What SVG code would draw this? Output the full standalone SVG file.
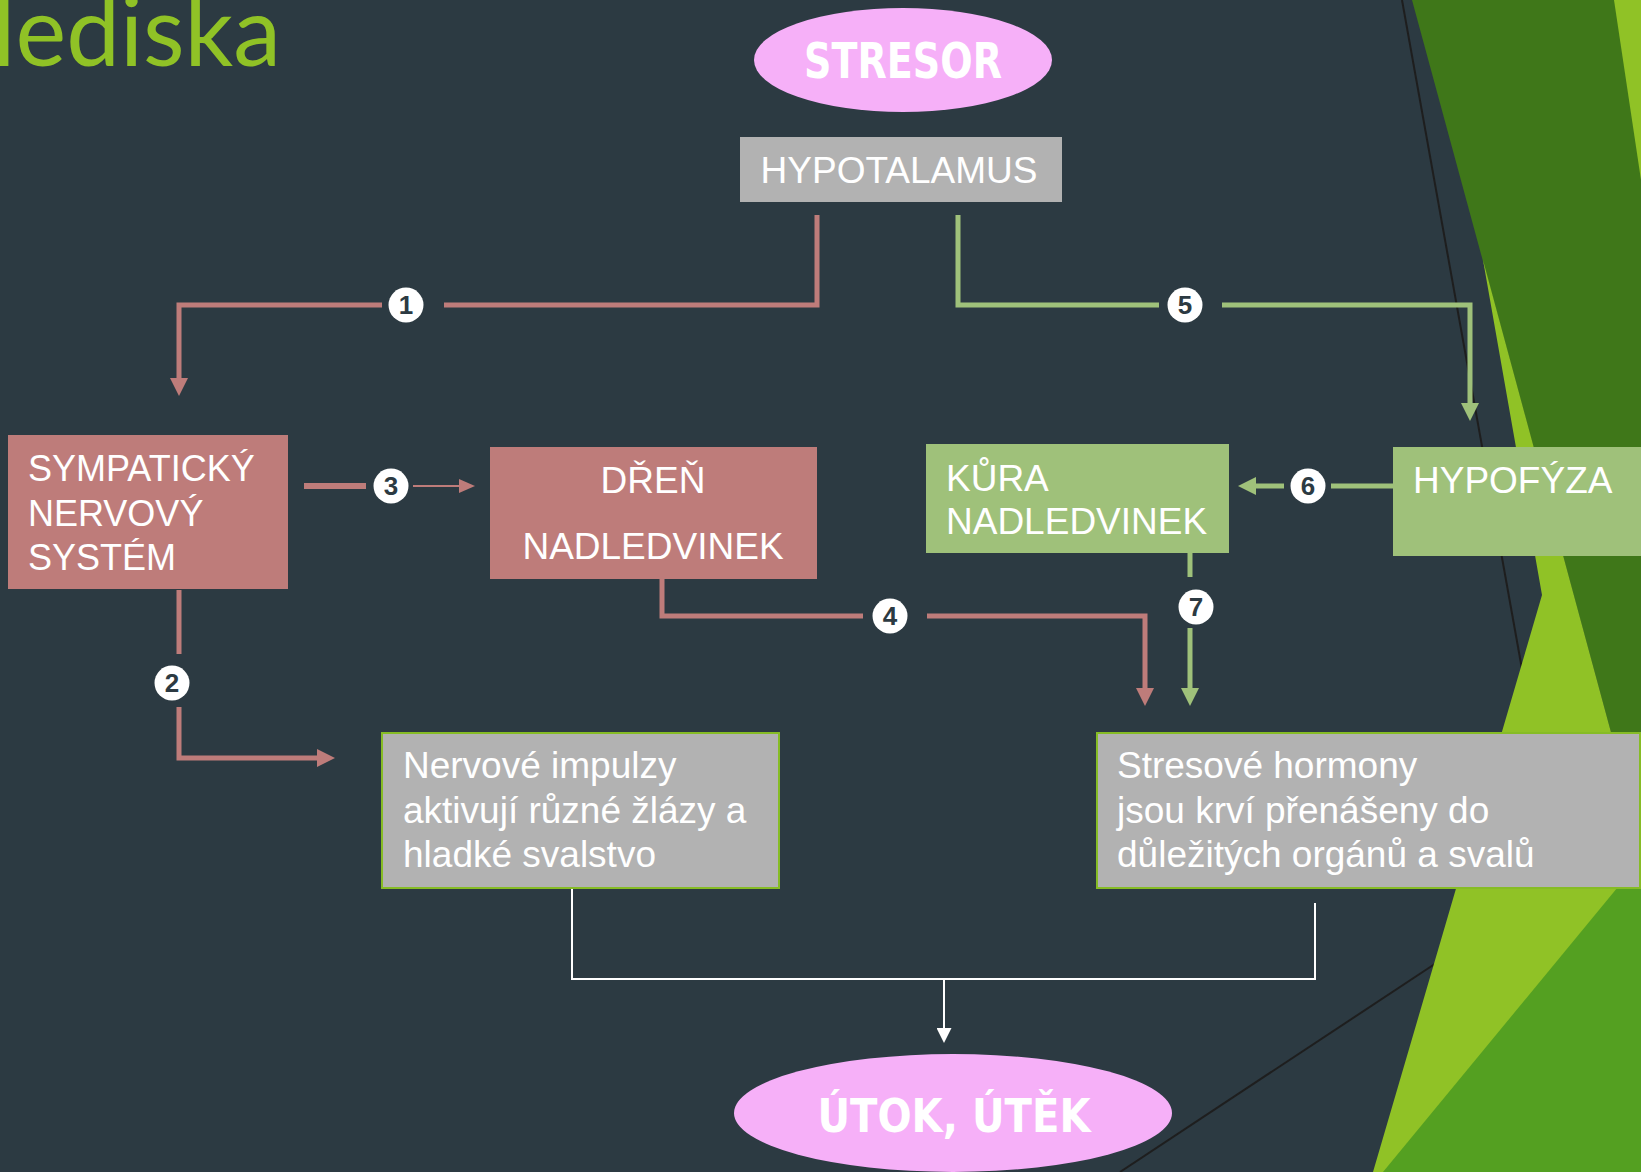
<svg xmlns="http://www.w3.org/2000/svg" width="1641" height="1172" viewBox="0 0 1641 1172">
<defs>
<style>
.txt{font-family:"Liberation Sans",Arial,sans-serif;fill:#ffffff;font-size:37px}
.red{fill:#BE7C7A}
.grn{fill:#9FC17A}
.gry{fill:#B2B2B2}
.gryb{fill:#B2B2B2;stroke:#86BC25;stroke-width:2}
.pink{fill:#F6B0F8}
.big{font-family:"Liberation Sans Narrow","DejaVu Sans Condensed","Liberation Sans",sans-serif;font-weight:bold;fill:#ffffff}
.cr{stroke:#BE7C7A;stroke-width:5;fill:none}
.cg{stroke:#9FC17A;stroke-width:5;fill:none}
.cw{stroke:#ffffff;stroke-width:2;fill:none}
.lbl circle{fill:#ffffff}
.lbl text{font-family:"Liberation Sans",Arial,sans-serif;font-weight:bold;font-size:26px;fill:#2C3A42;text-anchor:middle}
.thin{stroke:#1E1E1E;stroke-width:2;fill:none}
</style>
<marker id="ar" markerUnits="userSpaceOnUse" markerWidth="18" markerHeight="18" viewBox="0 0 18 18" refX="0" refY="9" orient="auto"><path d="M0,0 L18,9 L0,18 z" fill="#BE7C7A"/></marker>
<marker id="ars" markerUnits="userSpaceOnUse" markerWidth="16" markerHeight="14" viewBox="0 0 16 14" refX="0" refY="7" orient="auto"><path d="M0,0 L16,7 L0,14 z" fill="#BE7C7A"/></marker>
<marker id="ag" markerUnits="userSpaceOnUse" markerWidth="18" markerHeight="18" viewBox="0 0 18 18" refX="0" refY="9" orient="auto"><path d="M0,0 L18,9 L0,18 z" fill="#9FC17A"/></marker>
<marker id="aw" markerUnits="userSpaceOnUse" markerWidth="15" markerHeight="15" viewBox="0 0 15 15" refX="0" refY="7.5" orient="auto"><path d="M0,0 L15,7.5 L0,15 z" fill="#ffffff"/></marker>
</defs>
<rect x="0" y="0" width="1641" height="1172" fill="#2C3A42"/>
<g id="background">
<line class="thin" x1="1402" y1="0" x2="1532" y2="725"/>
<line class="thin" x1="1462" y1="946" x2="1120" y2="1172"/>
<polygon points="1412,0 1641,0 1641,843" fill="#3F7719"/>
<polygon points="1614,0 1641,0 1641,180" fill="#90C226"/>
<polygon points="1483,260 1641,843 1641,1172 1373,1172 1542,595" fill="#90C226"/>
<polygon points="1641,859 1641,1172 1383,1172" fill="#54A021"/>
<text x="281" y="66" text-anchor="end" font-family="Lato,'Open Sans',sans-serif" font-size="96" fill="#90C226">lediska</text>
</g>
<g id="connectors">
<path class="cr" d="M817,215 V305 H444"/>
<path class="cr" d="M382,305 H179 V378" marker-end="url(#ar)"/>
<path class="cr" d="M179,590 V654"/>
<path class="cr" d="M179,707 V758 H317" marker-end="url(#ar)"/>
<path class="cr" style="stroke-width:6" d="M304,486 H366"/>
<path class="cr" style="stroke-width:2" d="M413,486 H459" marker-end="url(#ars)"/>
<path class="cr" d="M662,579 V616 H863"/>
<path class="cr" d="M927,616 H1145 V688" marker-end="url(#ar)"/>
<path class="cg" d="M958,215 V305 H1159"/>
<path class="cg" d="M1222,305 H1470 V403" marker-end="url(#ag)"/>
<path class="cg" d="M1393,486 H1331"/>
<path class="cg" d="M1284,486 H1256" marker-end="url(#ag)"/>
<path class="cg" d="M1190,553 V577"/>
<path class="cg" d="M1190,628 V688" marker-end="url(#ag)"/>
<path class="cw" d="M572,889 V979 H1315 V903"/>
<path class="cw" d="M944,979 V1028" marker-end="url(#aw)"/>
</g>
<g id="labels">
<g class="lbl" id="l1"><circle cx="406" cy="305" r="17.5"/><text x="406" y="314">1</text></g>
<g class="lbl" id="l2"><circle cx="172" cy="683" r="17.5"/><text x="172" y="692">2</text></g>
<g class="lbl" id="l3"><circle cx="391" cy="486" r="17.5"/><text x="391" y="495">3</text></g>
<g class="lbl" id="l4"><circle cx="890" cy="616" r="17.5"/><text x="890" y="625">4</text></g>
<g class="lbl" id="l5"><circle cx="1185" cy="305" r="17.5"/><text x="1185" y="314">5</text></g>
<g class="lbl" id="l6"><circle cx="1308" cy="486" r="17.5"/><text x="1308" y="495">6</text></g>
<g class="lbl" id="l7"><circle cx="1196" cy="607" r="17.5"/><text x="1196" y="616">7</text></g>
</g>
<g id="stresor">
<ellipse class="pink" cx="903" cy="60" rx="149" ry="52"/>
<text class="big" x="903" y="78" text-anchor="middle" font-size="50" textLength="198" lengthAdjust="spacingAndGlyphs">STRESOR</text>
</g>
<g id="hypotalamus">
<rect class="gry" x="740" y="137" width="322" height="65"/>
<text class="txt" x="899" y="183" text-anchor="middle">HYPOTALAMUS</text>
</g>
<g id="sympaticky">
<rect class="red" x="8" y="435" width="280" height="154"/>
<text class="txt" style="font-size:36px" x="28" y="481">SYMPATICKÝ</text>
<text class="txt" style="font-size:36px" x="28" y="526">NERVOVÝ</text>
<text class="txt" style="font-size:36px" x="28" y="570">SYSTÉM</text>
</g>
<g id="dren">
<rect class="red" x="490" y="447" width="327" height="132"/>
<text class="txt" x="653" y="493" text-anchor="middle">DŘEŇ</text>
<text class="txt" x="653" y="559" text-anchor="middle">NADLEDVINEK</text>
</g>
<g id="kura">
<rect class="grn" x="926" y="444" width="303" height="109"/>
<text class="txt" x="946" y="491">KŮRA</text>
<text class="txt" x="946" y="534">NADLEDVINEK</text>
</g>
<g id="hypofyza">
<rect class="grn" x="1393" y="447" width="248" height="109"/>
<text class="txt" x="1413" y="493">HYPOFÝZA</text>
</g>
<g id="nervove">
<rect class="gryb" x="382" y="733" width="397" height="155"/>
<text class="txt" x="403" y="778">Nervové impulzy</text>
<text class="txt" x="403" y="823">aktivují různé žlázy a</text>
<text class="txt" x="403" y="867">hladké svalstvo</text>
</g>
<g id="stresove">
<rect class="gryb" x="1097" y="733" width="543" height="155"/>
<text class="txt" x="1117" y="778">Stresové hormony</text>
<text class="txt" x="1117" y="823">jsou krví přenášeny do</text>
<text class="txt" x="1117" y="867">důležitých orgánů a svalů</text>
</g>
<g id="utok">
<ellipse class="pink" cx="953" cy="1113" rx="219" ry="59"/>
<text class="big" x="954" y="1132" text-anchor="middle" font-size="47" textLength="273" lengthAdjust="spacingAndGlyphs">ÚTOK, ÚTĚK</text>
</g>
</svg>
